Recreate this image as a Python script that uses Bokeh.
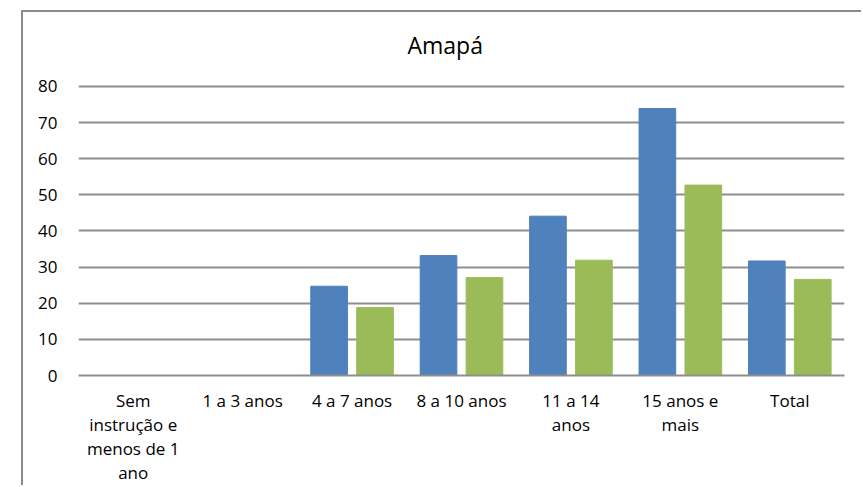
from bokeh.plotting import figure
from bokeh.models import Range1d, FixedTicker, ColumnDataSource
from bokeh.transform import dodge
from bokeh.embed import file_html
from bokeh.resources import INLINE

categories = ["Sem\ninstrução e\nmenos de 1\nano", "1 a 3 anos", "4 a 7 anos",
              "8 a 10 anos", "11 a 14\nanos", "15 anos e\nmais", "Total"]
series_blue = [0, 0, 24.7, 33.2, 44.1, 73.9, 31.7]
series_green = [0, 0, 18.8, 27.1, 31.9, 52.7, 26.6]
y_ticks = [0, 10, 20, 30, 40, 50, 60, 70, 80]
title_text = "Amapá"

FONT = "Open Sans"
GRID = "#8e8e8e"

src = ColumnDataSource(dict(cat=categories, blue=series_blue, green=series_green))

p = figure(x_range=categories, y_range=Range1d(0, 83.32),
           width=840, height=475, output_backend="svg", toolbar_location=None,
           min_border_left=55, min_border_right=19, min_border_top=62,
           min_border_bottom=100)
p.margin = (10, 0, 0, 21)
p.styles = {"border-left": "2px solid #8a8a8a", "border-top": "2px solid #8a8a8a"}

p.vbar(x=dodge("cat", -0.21, range=p.x_range), top="blue", width=0.335, source=src,
       fill_color="#4F81BD", line_color="#4F81BD")
p.vbar(x=dodge("cat", 0.21, range=p.x_range), top="green", width=0.335, source=src,
       fill_color="#9BBB59", line_color="#9BBB59")

p.title.text = title_text
p.title.text_font = FONT
p.title.text_font_size = "23px"
p.title.text_font_style = "normal"
p.title.text_color = "#000000"
p.title.align = "left"
p.title.offset = 329
p.title.standoff = 28

p.outline_line_color = None
p.background_fill_color = "white"
p.border_fill_color = "white"

p.xgrid.grid_line_color = None
p.ygrid.ticker = FixedTicker(ticks=y_ticks)
p.ygrid.grid_line_color = GRID
p.ygrid.grid_line_width = 2
p.ygrid.cross_bounds = (0, len(categories))

p.yaxis.ticker = FixedTicker(ticks=y_ticks)
p.yaxis.axis_line_color = None
p.yaxis.major_tick_line_color = None
p.yaxis.major_tick_out = 0
p.yaxis.major_tick_in = 0
p.yaxis.minor_tick_line_color = None
p.yaxis.major_label_standoff = 21
p.yaxis.major_label_text_font = FONT
p.yaxis.major_label_text_font_size = "17px"
p.yaxis.major_label_text_color = "#000000"

p.xaxis.axis_line_color = GRID
p.xaxis.axis_line_width = 2
p.xaxis.major_tick_line_color = None
p.xaxis.major_tick_out = 0
p.xaxis.major_tick_in = 0
p.xaxis.minor_tick_line_color = None
p.xaxis.major_label_standoff = 13
p.xaxis.major_label_text_font = FONT
p.xaxis.major_label_text_font_size = "17px"
p.xaxis.major_label_text_color = "#000000"
p.xaxis.major_label_text_line_height = 1.055
p.x_range.range_padding = 0

open("out.html", "w").write(file_html(p, INLINE))
